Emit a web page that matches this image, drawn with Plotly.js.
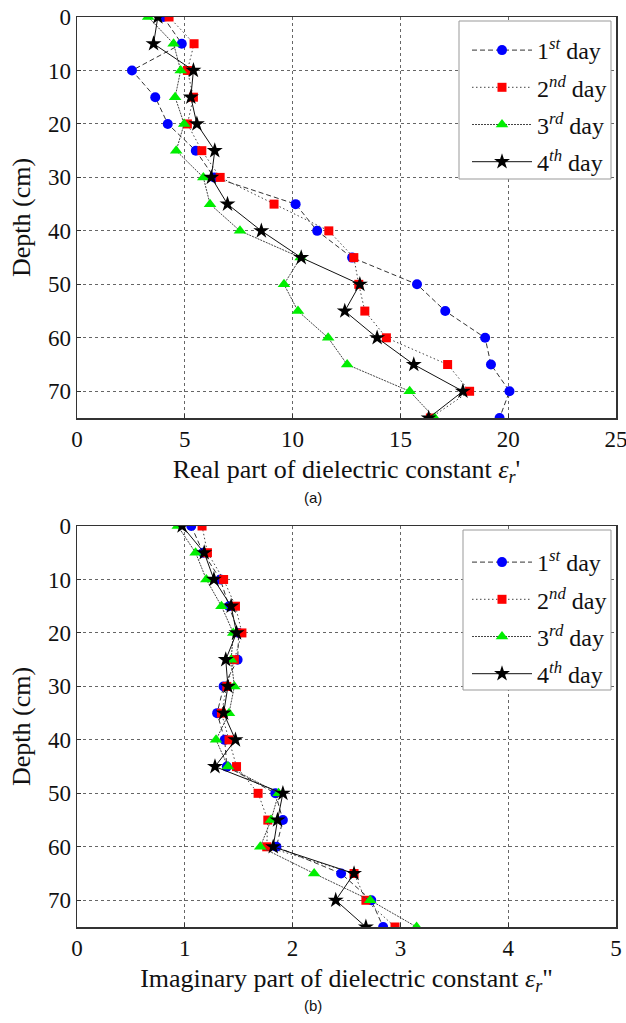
<!DOCTYPE html>
<html>
<head>
<meta charset="utf-8">
<script src="https://cdn.plot.ly/plotly-3.0.1.min.js"></script>
<style>html,body{margin:0;padding:0;background:#fff;}</style>
</head>
<body>
<div id="chart" style="width:626px;height:1023px;"></div>
<script>
// Depth values (cm)
const depth = [0, 5, 10, 15, 20, 25, 30, 35, 40, 45, 50, 55, 60, 65, 70, 75];

// (a) Real part of dielectric constant
const real_day1 = [4.0, 4.86, 2.55, 3.63, 4.21, 5.51, 6.36, 10.14, 11.14, 12.76, 15.77, 17.08, 18.93, 19.2, 20.06, 19.6];
const real_day2 = [4.27, 5.43, 5.12, 5.40, 5.12, 5.79, 6.64, 9.14, 11.68, 12.84, 13.07, 13.35, 14.35, 17.19, 18.21, 16.39];
const real_day3 = [3.3, 4.48, 4.81, 4.55, 4.97, 4.6, 5.86, 6.17, 7.56, 10.37, 9.6, 10.25, 11.65, 12.53, 15.43, 16.59];
const real_day4 = [3.75, 3.55, 5.40, 5.28, 5.56, 6.39, 6.23, 6.98, 8.55, 10.4, 13.12, 12.42, 13.92, 15.62, 17.9, 16.31];

// (b) Imaginary part of dielectric constant
const imag_day1 = [1.06, 1.17, 1.33, 1.41, 1.50, 1.49, 1.36, 1.30, 1.37, 1.39, 1.84, 1.91, 1.85, 2.45, 2.73, 2.84];
const imag_day2 = [1.16, 1.21, 1.36, 1.47, 1.53, 1.46, 1.39, 1.34, 1.41, 1.48, 1.68, 1.77, 1.76, 2.57, 2.68, 2.95];
const imag_day3 = [0.935, 1.10, 1.20, 1.34, 1.45, 1.43, 1.46, 1.41, 1.29, 1.40, 1.87, 1.80, 1.70, 2.20, 2.72, 3.15];
const imag_day4 = [0.975, 1.18, 1.27, 1.43, 1.48, 1.38, 1.40, 1.36, 1.47, 1.28, 1.91, 1.86, 1.82, 2.57, 2.40, 2.68];

const seriesNames = ['1<sup><i>st</i></sup> day', '2<sup><i>nd</i></sup> day', '3<sup><i>rd</i></sup> day', '4<sup><i>th</i></sup> day'];
const depthTicks = [0, 10, 20, 30, 40, 50, 60, 70];
const realTicks = [0, 5, 10, 15, 20, 25];
const imagTicks = [0, 1, 2, 3, 4, 5];

const styles = [
  {symbol: 'circle', color: '#0000ff', size: 10, dash: '5px,3px', lc: '#333'},
  {symbol: 'square', color: '#ff0000', size: 9, dash: '1.5px,2.5px', lc: '#444'},
  {symbol: 'triangle-up', color: '#00ee00', size: 11, dash: '2px,1px', lc: '#444'},
  {symbol: 'star', color: '#000000', size: 12, dash: 'solid', lc: '#111'}
];

const realSets = [real_day1, real_day2, real_day3, real_day4];
const imagSets = [imag_day1, imag_day2, imag_day3, imag_day4];

const traces = [];
realSets.forEach((vals, i) => {
  const s = styles[i];
  traces.push({
    x: vals, y: depth, type: 'scatter', mode: 'lines+markers',
    name: seriesNames[i], xaxis: 'x', yaxis: 'y', legend: 'legend',
    legendgroup: 'a' + i,
    line: {color: s.lc, width: 1, dash: s.dash},
    marker: {symbol: s.symbol, color: s.color, size: s.size, line: {width: 0}}
  });
});
imagSets.forEach((vals, i) => {
  const s = styles[i];
  traces.push({
    x: vals, y: depth, type: 'scatter', mode: 'lines+markers',
    name: seriesNames[i], xaxis: 'x2', yaxis: 'y2', legend: 'legend2',
    legendgroup: 'b' + i,
    line: {color: s.lc, width: 1, dash: s.dash},
    marker: {symbol: s.symbol, color: s.color, size: s.size, line: {width: 0}}
  });
});

const W = 626, H = 1023;
const serif = '"Times New Roman", "Liberation Serif", "DejaVu Serif", serif';
const sans = '"Liberation Sans", Arial, sans-serif';
const xDom = [77 / W, 616 / W];
const yDomA = [1 - 418 / H, 1 - 17 / H];
const yDomB = [1 - 927 / H, 1 - 526 / H];

function xAxis(range, ticks, title, anchor, dom) {
  return {
    domain: dom, anchor: anchor, range: range, tickvals: ticks, ticktext: ticks.map(String),
    ticklabeloverflow: 'allow',
    showline: true, mirror: true, linecolor: '#333', linewidth: 1.5,
    showgrid: true, gridcolor: '#666', gridwidth: 1, griddash: 'dot',
    zeroline: false, ticks: 'inside', ticklen: 4, tickcolor: '#333',
    tickfont: {family: serif, size: 23, color: '#111'},
    title: {text: title, font: {family: serif, size: 26, color: '#111'}, standoff: 8},
    automargin: false
  };
}
function yAxis(anchor, dom) {
  return {
    domain: dom, anchor: anchor, range: [75, 0], tickvals: depthTicks,
    ticklabeloverflow: 'allow',
    showline: true, mirror: true, linecolor: '#333', linewidth: 1.5,
    showgrid: true, gridcolor: '#666', gridwidth: 1, griddash: 'dot',
    zeroline: false, ticks: 'inside', ticklen: 4, tickcolor: '#333',
    tickfont: {family: serif, size: 23, color: '#111'},
    title: {text: 'Depth (cm)', font: {family: serif, size: 26, color: '#111'}, standoff: 10},
    automargin: false
  };
}

const legendBase = {
  xanchor: 'right', yanchor: 'top', x: 612 / W,
  bgcolor: 'rgba(0,0,0,0)', borderwidth: 0,
  font: {family: serif, size: 24, color: '#111'},
  itemwidth: 60, traceorder: 'grouped', tracegroupgap: 3,
  itemclick: false
};

function box(y0, y1, x0) {
  return {type: 'rect', xref: 'paper', yref: 'paper', layer: 'above',
    x0: x0 / W, x1: 611 / W, y0: 1 - y1 / H, y1: 1 - y0 / H,
    fillcolor: '#fff', line: {color: '#999', width: 1}};
}

const layout = {
  width: W, height: H,
  margin: {l: 0, r: 0, t: 0, b: 0},
  paper_bgcolor: '#fff', plot_bgcolor: '#fff',
  font: {family: serif},
  showlegend: true,
  xaxis: xAxis([0, 25], realTicks, 'Real part of dielectric constant <i>ε</i><sub><i>r</i></sub>\'', 'y', xDom),
  yaxis: yAxis('x', yDomA),
  xaxis2: xAxis([0, 5], imagTicks, 'Imaginary part of dielectric constant <i>ε</i><sub><i>r</i></sub>"', 'y2', xDom),
  yaxis2: yAxis('x2', yDomB),
  legend: Object.assign({}, legendBase, {y: 1 - 28 / H}),
  legend2: Object.assign({}, legendBase, {y: 1 - 540 / H}),
  shapes: [box(21, 179, 459), box(530, 690, 463)],
  annotations: [
    {text: '(a)', xref: 'paper', yref: 'paper', x: 313 / W, y: 1 - 497 / H, showarrow: false,
     xanchor: 'center', yanchor: 'middle',
     font: {family: sans, size: 15, color: '#111'}},
    {text: '(b)', xref: 'paper', yref: 'paper', x: 313 / W, y: 1 - 1005 / H, showarrow: false,
     xanchor: 'center', yanchor: 'middle',
     font: {family: sans, size: 15, color: '#111'}}
  ]
};

Plotly.newPlot('chart', traces, layout, {displayModeBar: false, staticPlot: true});
</script>
</body>
</html>
